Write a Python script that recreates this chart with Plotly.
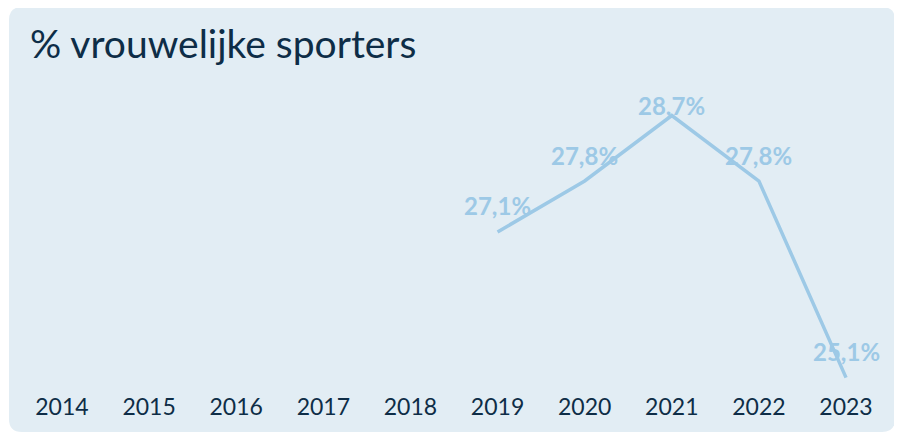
import plotly.graph_objects as go

years = ["2014", "2015", "2016", "2017", "2018", "2019", "2020", "2021", "2022", "2023"]
pct_female = [None, None, None, None, None, 27.1, 27.8, 28.7, 27.8, 25.1]
title_text = "% vrouwelijke sporters"

W, H = 902, 434
OFF_X, OFF_Y = 8, 8  # page offset of the figure in the browser
BG = "#e2edf4"
LINE = "#9dc9e6"
NAVY = "#0e2d47"
FONT = "Lato"


def px(x):
    return (x - OFF_X) / W


def py(y):
    return 1 - (y - OFF_Y) / H


def rounded_rect(x0, y0, x1, y1, r):
    pts = [
        f"M {px(x0 + r)} {py(y0)}",
        f"L {px(x1 - r)} {py(y0)}",
        f"Q {px(x1)} {py(y0)} {px(x1)} {py(y0 + r)}",
        f"L {px(x1)} {py(y1 - r)}",
        f"Q {px(x1)} {py(y1)} {px(x1 - r)} {py(y1)}",
        f"L {px(x0 + r)} {py(y1)}",
        f"Q {px(x0)} {py(y1)} {px(x0)} {py(y1 - r)}",
        f"L {px(x0)} {py(y0 + r)}",
        f"Q {px(x0)} {py(y0)} {px(x0 + r)} {py(y0)}",
        "Z",
    ]
    return " ".join(pts)


fig = go.Figure()
fig.add_trace(go.Scatter(
    x=years, y=pct_female, mode="lines",
    line=dict(color=LINE, width=3.5),
    connectgaps=False, hoverinfo="skip", showlegend=False,
))

annotations = []
max_v = max(v for v in pct_female if v is not None)
for i, (yr, v) in enumerate(zip(years, pct_female)):
    if v is None:
        continue
    annotations.append(dict(
        x=i, y=v, xref="x", yref="y",
        text="<b>" + f"{v:.1f}".replace(".", ",") + "%</b>",
        showarrow=False, yanchor="middle", xanchor="center",
        yshift=10 if v == max_v else 26,
        font=dict(family=FONT, size=24, color=LINE),
    ))

annotations.append(dict(
    x=px(28), y=py(43), xref="paper", yref="paper",
    text=title_text, showarrow=False, xanchor="left", yanchor="middle",
    font=dict(family=FONT, size=39, color=NAVY),
))

fig.update_layout(
    width=W, height=H,
    margin=dict(l=0, r=0, t=0, b=0),
    paper_bgcolor="white", plot_bgcolor="rgba(0,0,0,0)",
    shapes=[dict(
        type="path", xref="paper", yref="paper",
        path=rounded_rect(9, 7, 895, 432, 13),
        fillcolor=BG, line=dict(width=0), layer="below",
    )],
    annotations=annotations,
    xaxis=dict(
        type="category", categoryorder="array", categoryarray=years,
        range=[-0.5, 9.5], domain=[px(18.4), px(889.6)],
        showgrid=False, zeroline=False, showline=False, ticks="",
        tickfont=dict(family=FONT, size=23, color=NAVY),
        ticklabelstandoff=1,
    ),
    yaxis=dict(
        range=[24.93, 29.05], domain=[py(390), py(90)],
        visible=False, showgrid=False, zeroline=False,
    ),
)

fig.write_html("out.html")
